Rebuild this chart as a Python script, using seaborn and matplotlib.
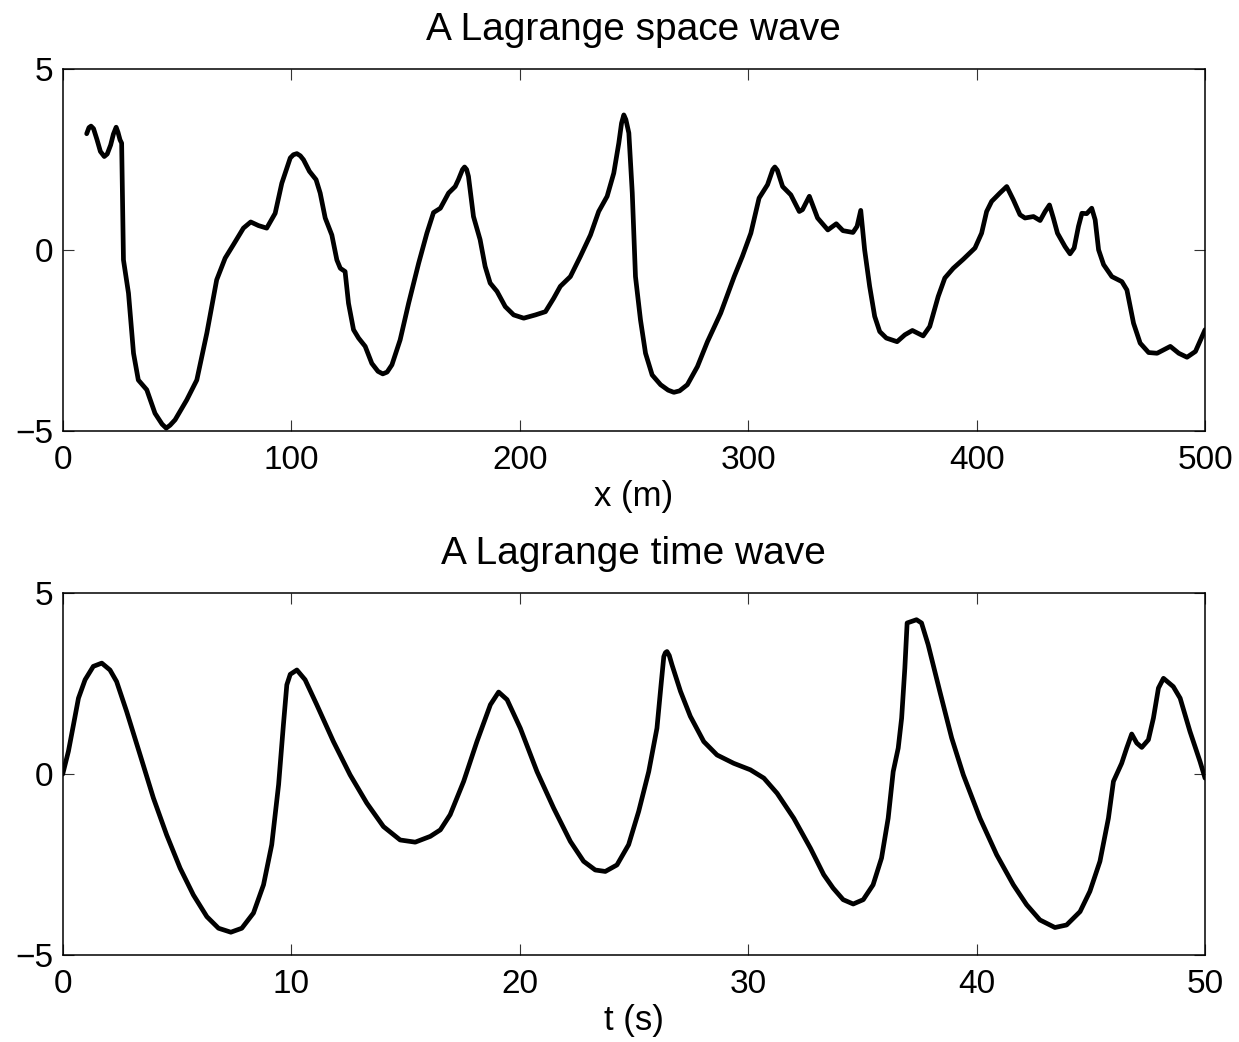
import numpy as np
import pandas as pd
import matplotlib
matplotlib.use("Agg")
import matplotlib.pyplot as plt
import seaborn as sns

# ---- data ----
space_x = [10.5, 11.5, 12.4, 13.5, 15.0, 16.5, 18.2, 19.5, 21.0, 22.2, 23.4, 24.2, 25.1, 25.8,
           26.6, 28.8, 31.0, 33.1, 36.8, 40.4, 43.5,
           45.3, 47.0, 49.2, 54.3, 58.7, 63.1, 67.4, 71.1, 74.7, 79.1, 82.3, 85.7, 89.3, 93.0,
           95.9, 99.6, 101.0, 102.5, 104.0, 105.4, 108.0, 110.9, 112.7, 114.9, 117.8, 120.0, 121.5,
           123.6, 125.1, 127.3, 129.5, 132.4, 135.3, 138.0, 140.1, 142.0, 144.1, 147.7, 151.4, 155.8,
           159.4, 162.3, 165.3, 168.9, 171.8, 173.2, 175.0, 175.9, 176.8, 177.6, 179.8, 182.7, 184.9,
           187.1, 190.1, 193.7, 197.4, 201.8, 206.9, 211.3, 214.9, 217.8, 222.2, 226.6,
           231.0, 234.6, 238.3, 241.2, 243.4, 244.6, 245.6, 246.5, 247.8, 249.3, 250.7, 252.9, 255.1,
           258.0, 261.7, 265.0, 267.5, 270.0, 273.4, 277.8, 282.2, 288.0, 293.9, 297.5, 301.2, 304.8,
           308.5, 310.8, 311.7, 312.8, 315.1, 318.7, 322.4, 323.8, 326.8, 330.4, 334.9, 338.6, 341.5,
           345.9, 347.7, 349.3, 351.0, 353.2, 355.4, 357.6, 360.5, 365.2, 368.6, 371.9,
           376.6, 379.5, 383.2, 386.1, 389.8, 394.2, 399.3, 402.2, 404.4, 406.6, 410.2,
           413.2, 416.1, 419.0, 421.2, 424.9, 427.8, 430.0, 431.9, 433.6, 435.4, 438.7,
           440.9, 442.7, 444.6, 446.1, 448.2, 450.4, 451.9, 453.4, 455.6, 459.2, 463.6,
           465.8, 468.7, 471.6, 475.3, 479.0, 484.8, 488.5, 492.1, 495.8, 500.0]
space_y = [3.21, 3.38, 3.42, 3.35, 3.05, 2.72, 2.58, 2.65, 2.90, 3.20, 3.39, 3.25, 3.04, 2.95,
           -0.28, -1.20, -2.86, -3.60, -3.87, -4.52, -4.82,
           -4.93, -4.85, -4.70, -4.15, -3.60, -2.30, -0.83, -0.23, 0.14, 0.60, 0.77, 0.67, 0.60, 1.01,
           1.84, 2.54, 2.63, 2.66, 2.60, 2.49, 2.17, 1.94, 1.57, 0.88, 0.41, -0.28, -0.51,
           -0.60, -1.48, -2.21, -2.44, -2.67, -3.14, -3.36, -3.43, -3.38, -3.18, -2.49, -1.48, -0.37,
           0.46, 1.03, 1.15, 1.57, 1.75, 1.94, 2.22, 2.29, 2.22, 2.03, 0.92, 0.28, -0.46,
           -0.92, -1.15, -1.57, -1.80, -1.89, -1.80, -1.71, -1.34, -1.01, -0.74, -0.18,
           0.41, 1.06, 1.48, 2.12, 2.95, 3.50, 3.73, 3.60, 3.23, 1.57, -0.74, -1.94, -2.86,
           -3.46, -3.73, -3.88, -3.94, -3.90, -3.73, -3.23, -2.54, -1.75, -0.74, -0.18, 0.46, 1.43,
           1.80, 2.22, 2.29, 2.20, 1.75, 1.52, 1.06, 1.11, 1.48, 0.88, 0.55, 0.72, 0.53,
           0.48, 0.65, 1.09, 0.00, -1.01, -1.84, -2.26, -2.44, -2.54, -2.35, -2.23,
           -2.38, -2.12, -1.29, -0.78, -0.51, -0.26, 0.05, 0.46, 1.06, 1.34, 1.57,
           1.75, 1.38, 0.97, 0.88, 0.92, 0.81, 1.06, 1.24, 0.88, 0.46, 0.09,
           -0.11, 0.05, 0.65, 1.01, 1.00, 1.15, 0.83, 0.00, -0.41, -0.74, -0.88,
           -1.11, -2.03, -2.58, -2.84, -2.86, -2.67, -2.86, -2.97, -2.81, -2.21]

time_t = [0.0, 0.25, 0.47, 0.69, 0.98, 1.34, 1.71, 2.07, 2.36, 2.80, 3.39, 3.97, 4.55, 5.14,
          5.72, 6.31, 6.82, 7.36, 7.84, 8.35, 8.79, 9.15, 9.45, 9.66, 9.81, 9.96, 10.25,
          10.61, 11.12, 11.85, 12.58, 13.31, 14.04, 14.77, 15.43, 16.09, 16.53, 16.96,
          17.55, 18.13, 18.72, 19.08, 19.45, 20.03, 20.76, 21.49, 22.22, 22.80, 23.31,
          23.75, 24.26, 24.77, 25.21, 25.65, 26.01, 26.19, 26.31, 26.38, 26.45, 26.55, 26.67, 27.04,
          27.47, 28.06, 28.64, 29.37, 30.10, 30.69, 31.27, 32.00, 32.73, 33.31, 33.72,
          34.16, 34.60, 35.04, 35.47, 35.84, 36.13, 36.35, 36.57, 36.72, 36.86, 36.96,
          37.37, 37.59, 37.88, 38.39, 38.91, 39.42, 40.15, 40.88, 41.61, 42.19, 42.77,
          43.43, 43.94, 44.53, 44.96, 45.40, 45.77, 45.99, 46.35, 46.57, 46.79, 47.01,
          47.23, 47.52, 47.74, 47.96, 48.18, 48.61, 48.91, 49.34, 49.78, 50.0]
time_y = [0.0, 0.63, 1.36, 2.10, 2.61, 2.98, 3.07, 2.88, 2.56, 1.73, 0.53, -0.66, -1.68, -2.60,
          -3.34, -3.94, -4.26, -4.37, -4.26, -3.84, -3.06, -1.95, -0.29, 1.36, 2.47, 2.76, 2.88,
          2.61, 1.92, 0.90, -0.02, -0.80, -1.45, -1.82, -1.88, -1.72, -1.54, -1.12,
          -0.20, 0.90, 1.92, 2.27, 2.06, 1.27, 0.07, -0.94, -1.86, -2.41, -2.65,
          -2.69, -2.51, -1.95, -1.03, 0.07, 1.27, 2.47, 3.25, 3.36, 3.39, 3.28, 3.02, 2.29,
          1.60, 0.90, 0.53, 0.30, 0.12, -0.11, -0.53, -1.22, -2.05, -2.78, -3.15,
          -3.47, -3.59, -3.47, -3.06, -2.32, -1.22, 0.07, 0.72, 1.55, 2.93, 4.18,
          4.27, 4.18, 3.58, 2.29, 1.00, -0.02, -1.22, -2.23, -3.06, -3.61, -4.03,
          -4.24, -4.17, -3.80, -3.24, -2.41, -1.22, -0.20, 0.30, 0.72, 1.11, 0.86,
          0.74, 0.95, 1.55, 2.38, 2.65, 2.42, 2.10, 1.18, 0.35, -0.11]

x_ticks = [0, 100, 200, 300, 400, 500]
t_ticks = [0, 10, 20, 30, 40, 50]
y_ticks = [-5, 0, 5]

space_df = pd.DataFrame({"x": space_x, "y": space_y})
time_df = pd.DataFrame({"t": time_t, "y": time_y})

sns.set_theme(style="white")
plt.rcParams["font.family"] = ["Liberation Sans", "DejaVu Sans"]
plt.rcParams["axes.unicode_minus"] = True
plt.rcParams["text.color"] = "black"
plt.rcParams["axes.labelcolor"] = "black"
plt.rcParams["xtick.labelcolor"] = "black"
plt.rcParams["ytick.labelcolor"] = "black"

fig = plt.figure(figsize=(12.39, 10.42), dpi=100)
ax1 = fig.add_axes([0.0506, 0.5867, 0.9220, 0.3471])
ax2 = fig.add_axes([0.0506, 0.0835, 0.9220, 0.3471])

line_kw = dict(color="black", linewidth=3.4, estimator=None, sort=False,
               solid_joinstyle="round", solid_capstyle="round")
sns.lineplot(data=space_df, x="x", y="y", ax=ax1, **line_kw)
sns.lineplot(data=time_df, x="t", y="y", ax=ax2, **line_kw)

def style(ax, xticks, xlim, xlabel, title):
    ax.set_xlim(*xlim)
    ax.set_ylim(-5, 5)
    ax.set_xticks(xticks)
    ax.set_yticks(y_ticks)
    ax.set_xlabel(xlabel, fontsize=25, labelpad=3, color="black")
    ax.set_ylabel("")
    ax.set_title(title, fontsize=28, pad=21, color="black")
    ax.tick_params(direction="in", length=8, width=0.8, color="#333333",
                   labelsize=24, labelcolor="black", top=True, right=True,
                   bottom=True, left=True)
    ax.tick_params(axis="x", pad=10)
    ax.tick_params(axis="y", pad=6.5)
    for s in ax.spines.values():
        s.set_color("black")
        s.set_linewidth(1.1)
        s.set_visible(True)
    ax.grid(False)

style(ax1, x_ticks, (0, 500), "x (m)", "A Lagrange space wave")
style(ax2, t_ticks, (0, 50), "t (s)", "A Lagrange time wave")

fig.savefig("out.png", dpi=100, facecolor="white")
